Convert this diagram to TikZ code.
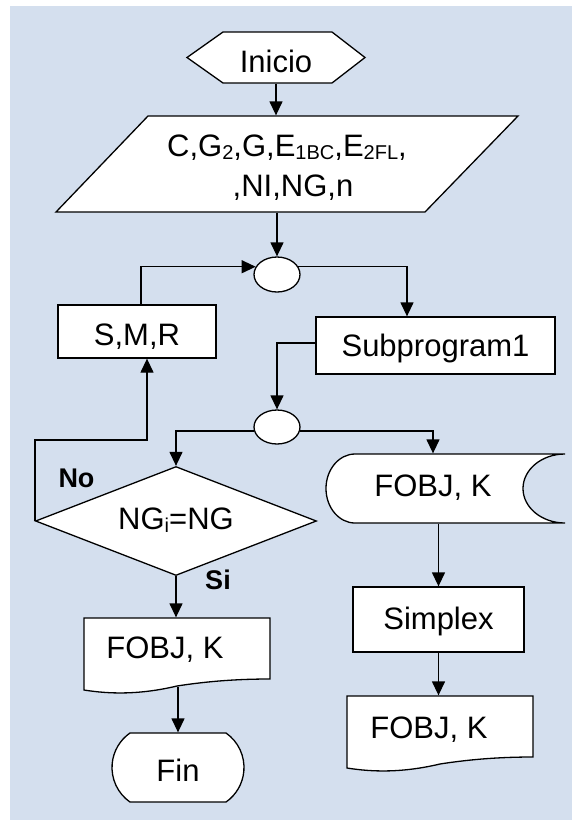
\documentclass[tikz,border=0pt]{standalone}
\usepackage{fontspec}
\setmainfont{Liberation Sans}
\usetikzlibrary{arrows.meta,shapes.geometric,shapes.misc}
\definecolor{bgblue}{RGB}{212,223,238}
\newcommand\fsub[1]{\raisebox{-3pt}{\fontsize{20}{20}\selectfont #1}}
\newcommand\fcdoc[2]{\draw[fill=white] (#1,#2) -- ({#1+186},#2) -- ({#1+186},{#2+61})
  .. controls ({#1+155},{#2+61}) and ({#1+125},{#2+63}) .. ({#1+93},{#2+68})
  .. controls ({#1+55},{#2+77}) and ({#1+25},{#2+76}) .. (#1,{#2+72}) -- cycle;}
\begin{document}
\begin{tikzpicture}[x=1pt,y=-1pt,
  line width=1.3pt,
  >={Triangle[length=14pt,width=13pt]},
  every node/.style={font=\fontsize{31}{40}\selectfont, inner sep=0pt},
  fchold/.style={text height=22pt, text depth=0pt},
  fcbox/.style={draw, fill=white, rectangle, fchold},
  lbl/.style={font=\fontsize{27}{30}\selectfont\bfseries, text height=19pt, text depth=0pt}]
\useasboundingbox (0,0) rectangle (572,823);
\fill[bgblue] (10,6) rectangle (572,820);

% Inicio
\draw[fill=white] (187,57.5) -- (223,32) -- (332,32) -- (365,57.5) -- (332,83) -- (223,83) -- cycle;
\node[fchold, minimum width=178, minimum height=51] (ini) at (276,57.5) {\raisebox{-3.5pt}{Inicio}};

% input parallelogram
\draw[fill=white] (148,116) -- (518,116) -- (425,212) -- (56,212) -- cycle;
\node[minimum width=370, minimum height=96] (inp) at (287,164) {};
\node[align=center] (inptxt) at (287,168) {C,G\fsub{2},G,E\fsub{1BC},E\fsub{2FL},\\\hspace*{12pt},NI,NG,n};

% connectors circles and boxes
\node[draw, fill=white, ellipse, minimum width=46, minimum height=35] (c1) at (277,274.5) {};
\node[fcbox, minimum width=158, minimum height=53] (smr) at (137,331.5) {\raisebox{-2.5pt}{S,M,R}};
\node[fcbox, minimum width=239, minimum height=57] (sub1) at (435.5,345.5) {Subprogram1};
\node[draw, fill=white, ellipse, minimum width=46, minimum height=34] (c2) at (277,427) {};

% decision
\node[draw, fill=white, diamond, aspect=2.58, minimum width=281, minimum height=109, fchold] (dec) at (176,521) {\raisebox{3pt}{NG\fsub{i}=NG}};
\node[lbl] (lno) at (76.5,477.5) {No};
\node[lbl] (lsi) at (218,580) {Si};

% display
\draw[fill=white] (565,454) -- (355,454) .. controls (339,454) and (326,469.5) .. (326,488.5)
  .. controls (326,507.5) and (339,523) .. (355,523) -- (565,523)
  .. controls (541.8,523) and (523,507.5) .. (523,488.5)
  .. controls (523,469.5) and (541.8,454) .. (565,454) -- cycle;
\node[fchold, minimum width=190, minimum height=69] (disp) at (433,488.5) {\raisebox{3.5pt}{FOBJ, K}};

\node[fcbox, minimum width=171, minimum height=65] (simp) at (438.5,619.5) {\raisebox{1.5pt}{Simplex}};

% documents
\fcdoc{84}{618}
\node[fchold, minimum width=186, minimum height=68] (doc1) at (177,652) {\raisebox{4.5pt}{FOBJ, K\hspace*{24pt}}};
\fcdoc{347}{696}
\node[fchold, minimum width=186, minimum height=68] (doc2) at (440,730) {\raisebox{3pt}{FOBJ, K\hspace*{22pt}}};

% end
\node[draw, fill=white, rounded rectangle, rounded rectangle arc length=110, minimum width=132, minimum height=69, fchold] (fin) at (178,767.5) {\raisebox{-3pt}{Fin}};

% connectors
\draw[->] (ini.south) -- (ini.south |- inp.north);
\draw[->] (c1.north |- inp.south) -- (c1.north);
\draw[->] ([xshift=4pt]smr.north) |- (c1.160);
\draw[->] (c1.20) -| ([xshift=-28.5pt]sub1.north);
\draw[->] ([yshift=2.5pt]sub1.west) -| (c2.north);
\draw[->] (c2.190) -| (dec.north);
\draw[->] (c2.350) -| (disp.north);
\draw[->] (dec.west) -- ++(0,-81) -| ([xshift=10pt]smr.south);
\draw[->] (dec.south) -- (dec.south |- doc1.north);
\draw[->] (fin.north |- doc1.south) -- (fin.north);
\draw[->] (simp.north |- disp.south) -- (simp.north);
\draw[->] (simp.south) -- (simp.south |- doc2.north);
\end{tikzpicture}
\end{document}
